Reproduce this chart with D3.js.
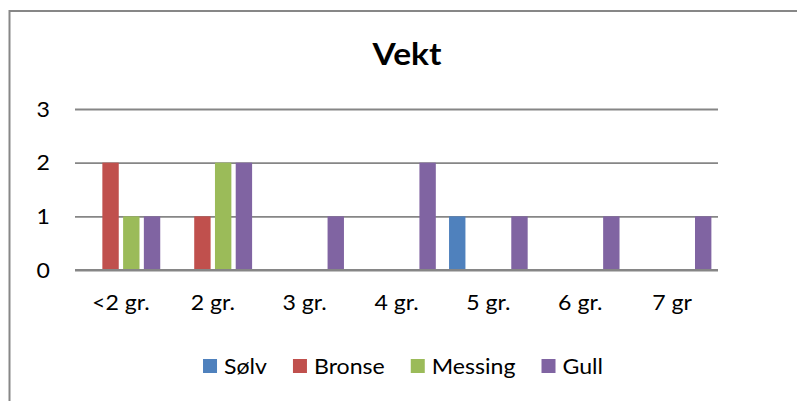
<!DOCTYPE html>
<html>
<head>
<meta charset="utf-8">
<script src="https://cdn.jsdelivr.net/npm/d3@7"></script>
<style>
  html, body { margin: 0; padding: 0; background: #fff; }
  svg { display: block; }
  text { font-family: Lato, "Open Sans", sans-serif; fill: #000; }
</style>
</head>
<body>
<svg id="chart" width="797" height="401"></svg>
<script>
const categories = ["<2 gr.", "2 gr.", "3 gr.", "4 gr.", "5 gr.", "6 gr.", "7 gr"];
const seriesNames = ["Sølv", "Bronse", "Messing", "Gull"];
const solv    = [0, 0, 0, 0, 1, 0, 0];
const bronse  = [2, 1, 0, 0, 0, 0, 0];
const messing = [1, 2, 0, 0, 0, 0, 0];
const gull    = [1, 2, 1, 2, 1, 1, 1];
const yTicks = [0, 1, 2, 3];
const colors = ["#4F81BD", "#C0504D", "#9BBB59", "#8064A2"];
const title = "Vekt";

const seriesValues = [solv, bronse, messing, gull];
const svg = d3.select("#chart");
const SX = 1.1;
const FS = "21px";

// frame
svg.append("path")
  .attr("d", "M9.5,820 L9.5,11 L1000,11")
  .attr("fill", "none").attr("stroke", "#878787").attr("stroke-width", 2);

const plotLeft = 75, plotRight = 718, yBottom = 270, yTop = 109;

const x0 = d3.scaleBand().domain(categories).range([plotLeft, plotRight]).padding(0);
const bw = x0.bandwidth();
const x1 = d3.scaleBand().domain(seriesNames).range([bw * 0.072, bw * 0.928]).paddingInner(0.21).paddingOuter(0);
const y = d3.scaleLinear().domain([0, 3]).range([yBottom, yTop]);

// gridlines
const yAxis = d3.axisLeft(y).tickValues(yTicks).tickSize(-(plotRight - plotLeft)).tickFormat("");
const gy = svg.append("g").attr("transform", `translate(${plotLeft},0)`).call(yAxis);
gy.select(".domain").remove();
gy.selectAll(".tick line").attr("stroke", "#868686").attr("stroke-width", 1.8);

// y labels
svg.append("g").selectAll("text").data(yTicks).join("text")
  .attr("transform", d => `translate(50,${y(d) + 7.5}) scale(${SX},1)`)
  .attr("text-anchor", "end")
  .style("font-size", FS)
  .text(d => d);

// bars
const rows = [];
categories.forEach((c, i) => seriesNames.forEach((s, j) => rows.push({c, s, j, v: seriesValues[j][i]})));
svg.append("g").selectAll("rect").data(rows.filter(d => d.v > 0)).join("rect")
  .attr("x", d => x0(d.c) + x1(d.s))
  .attr("width", x1.bandwidth())
  .attr("y", d => y(d.v))
  .attr("height", d => y(0) - y(d.v))
  .attr("fill", d => colors[d.j]);

// redraw baseline over bars
svg.append("line").attr("x1", plotLeft).attr("x2", plotRight).attr("y1", y(0)).attr("y2", y(0))
  .attr("stroke", "#868686").attr("stroke-width", 1.8);

// x labels
const xAxis = d3.axisBottom(x0).tickSize(0).tickPadding(0);
const gx = svg.append("g").call(xAxis);
gx.select(".domain").remove();
gx.selectAll(".tick text")
  .attr("y", 0).attr("dy", null)
  .attr("transform", `translate(0,310) scale(${SX},1)`)
  .attr("x", 0)
  .style("font-size", FS)
  .style("font-family", "Lato, sans-serif")
  .attr("fill", "#000");
gx.selectAll(".tick").each(function(d) {
  const cx = x0(d) + bw / 2;
  d3.select(this).attr("transform", `translate(${cx},0)`);
});

// title
svg.append("text")
  .attr("transform", `translate(407,65) scale(1.08,1)`)
  .attr("text-anchor", "middle")
  .style("font-size", "31px").style("font-weight", "bold")
  .text(title);

// legend
const legend = svg.append("g");
const items = legend.selectAll("g").data(seriesNames).join("g");
items.append("rect").attr("width", 14).attr("height", 14).attr("y", 359).attr("fill", (d, i) => colors[i]);
items.append("text")
  .style("font-size", FS)
  .text(d => d);
let widths = [];
items.select("text").each(function() { widths.push(this.getComputedTextLength() * SX); });
const sqW = 14, gapSq = 7, gapItem = 26;
const total = d3.sum(widths) + seriesNames.length * (sqW + gapSq) + (seriesNames.length - 1) * gapItem;
let cur = 403 - total / 2;
items.each(function(d, i) {
  const g = d3.select(this);
  g.select("rect").attr("x", cur);
  g.select("text").attr("transform", `translate(${cur + sqW + gapSq},374) scale(${SX},1)`);
  cur += sqW + gapSq + widths[i] + gapItem;
});
</script>
</body>
</html>
